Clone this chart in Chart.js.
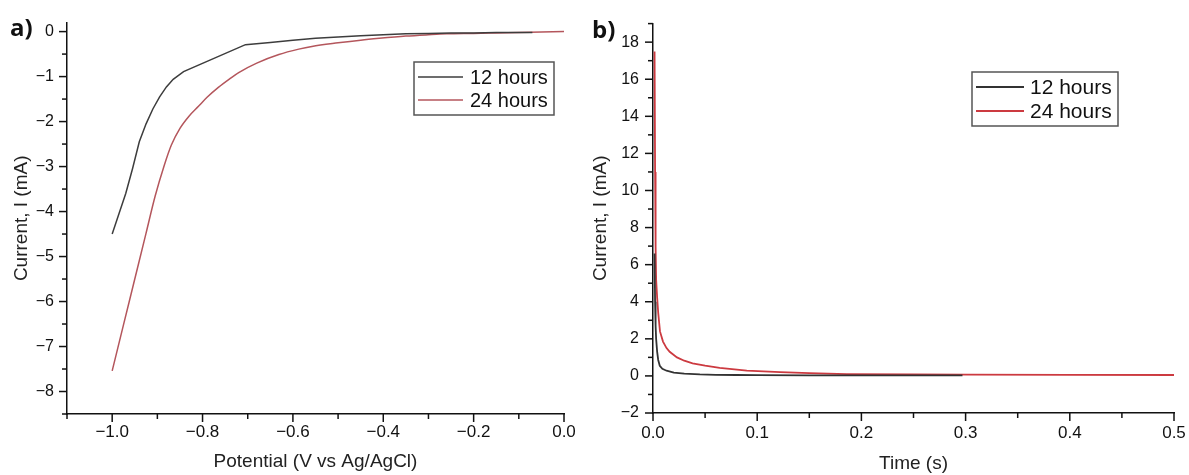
<!DOCTYPE html>
<html>
<head>
<meta charset="utf-8">
<script src="https://cdn.jsdelivr.net/npm/chart.js@4"></script>
<style>
  html, body { margin: 0; padding: 0; background: #fff; }
  #wrap { position: relative; width: 1189px; height: 475px; }
  .panel { position: absolute; top: 0; height: 475px; }
  #boxA { left: 0; width: 580px; }
  #boxB { left: 580px; width: 609px; }
</style>
</head>
<body>
<div id="wrap">
  <div class="panel" id="boxA"><canvas id="chartA"></canvas></div>
  <div class="panel" id="boxB"><canvas id="chartB"></canvas></div>
</div>
<script>
// panel a: linear sweep, current vs potential
const potential12 = [-1.0, -0.985, -0.97, -0.955, -0.94, -0.925, -0.91, -0.895, -0.88, -0.865, -0.842, -0.705, -0.65, -0.60, -0.55, -0.50, -0.45, -0.40, -0.35, -0.30, -0.25, -0.20, -0.15, -0.10, -0.07];
const current12  = [-4.50, -4.05, -3.60, -3.05, -2.45, -2.05, -1.72, -1.45, -1.23, -1.06, -0.89, -0.29, -0.24, -0.19, -0.15, -0.12, -0.09, -0.07, -0.05, -0.04, -0.03, -0.03, -0.02, -0.02, -0.02];
const potential24 = [-1.0, -0.975, -0.95, -0.925, -0.905, -0.885, -0.869, -0.85, -0.83, -0.809, -0.79, -0.765, -0.74, -0.72, -0.68, -0.631, -0.587, -0.558, -0.50, -0.45, -0.409, -0.35, -0.30, -0.26, -0.20, -0.15, -0.10, -0.05, 0.0];
const current24  = [-7.54, -6.52, -5.50, -4.48, -3.66, -2.98, -2.52, -2.15, -1.88, -1.66, -1.46, -1.24, -1.05, -0.91, -0.70, -0.51, -0.39, -0.33, -0.25, -0.19, -0.15, -0.10, -0.07, -0.05, -0.04, -0.03, -0.02, -0.01, 0.0];

// panel b: current vs time
const time12 = [0.0015, 0.002, 0.0025, 0.003, 0.004, 0.005, 0.0065, 0.009, 0.013, 0.02, 0.03, 0.045, 0.06, 0.08, 0.1, 0.15, 0.2, 0.25, 0.297];
const decay12 = [6.6, 4.0, 2.7, 2.0, 1.3, 0.86, 0.55, 0.38, 0.28, 0.18, 0.12, 0.08, 0.06, 0.05, 0.04, 0.03, 0.03, 0.03, 0.03];
const time24 = [0.0015, 0.002, 0.0025, 0.003, 0.004, 0.005, 0.0067, 0.0096, 0.013, 0.016, 0.023, 0.03, 0.038, 0.05, 0.064, 0.09, 0.122, 0.15, 0.186, 0.25, 0.3, 0.4, 0.5];
const decay24 = [17.5, 11.0, 7.0, 5.2, 4.2, 3.4, 2.4, 1.85, 1.5, 1.3, 1.0, 0.82, 0.68, 0.55, 0.43, 0.28, 0.2, 0.15, 0.1, 0.08, 0.07, 0.06, 0.05];

const seriesLabels = ['12 hours', '24 hours'];

const pts = (xs, ys) => xs.map((x, i) => ({ x: x, y: ys[i] }));
const minus = s => s.replace('-', '\u2212');

// draws outward tick marks, long for labelled ticks, short otherwise
const tickMarks = {
  id: 'tickMarks',
  afterDraw(chart, args, opts) {
    const ctx = chart.ctx;
    ctx.save();
    ctx.strokeStyle = opts.color;
    ctx.lineWidth = opts.width;
    ['x', 'y'].forEach(id => {
      const s = chart.scales[id];
      s.ticks.forEach(t => {
        const len = t.label !== '' ? opts.major : opts.minor;
        const p = s.getPixelForValue(t.value);
        ctx.beginPath();
        if (id === 'x') { ctx.moveTo(p, s.top); ctx.lineTo(p, s.top + len); }
        else { ctx.moveTo(s.right, p); ctx.lineTo(s.right - len, p); }
        ctx.stroke();
      });
    });
    ctx.restore();
  }
};

// boxed legend inside the plot + panel letter
const boxLegend = {
  id: 'boxLegend',
  afterDraw(chart, args, o) {
    const ctx = chart.ctx;
    ctx.save();
    ctx.fillStyle = '#fff';
    ctx.fillRect(o.x, o.y, o.w, o.h);
    ctx.strokeStyle = '#555';
    ctx.lineWidth = 1.5;
    ctx.strokeRect(o.x, o.y, o.w, o.h);
    ctx.font = o.font;
    ctx.textBaseline = 'middle';
    chart.data.datasets.forEach((ds, i) => {
      const yy = o.rows[i];
      ctx.strokeStyle = ds.borderColor;
      ctx.lineWidth = ds.borderWidth;
      ctx.beginPath();
      ctx.moveTo(o.sample[0], yy);
      ctx.lineTo(o.sample[1], yy);
      ctx.stroke();
      ctx.fillStyle = '#111';
      ctx.fillText(ds.label, o.textX, yy + 1);
    });
    ctx.font = 'bold 24px "Open Sans", "Liberation Sans", sans-serif';
    ctx.textBaseline = 'alphabetic';
    ctx.fillStyle = '#111';
    ctx.fillText(o.letter, o.letterX, o.letterY);
    ctx.restore();
  }
};

const FONT = '"Liberation Sans", Arial, sans-serif';

function axes(cfg) {
  return {
    x: {
      type: 'linear', min: cfg.xMin, max: cfg.xMax,
      afterFit: s => { s.height = cfg.xH; s.paddingLeft = 0; s.paddingRight = 0; },
      grid: { display: false, drawTicks: false },
      border: { display: true, color: '#111', width: 1.5 },
      ticks: {
        stepSize: cfg.xStep, includeBounds: false, autoSkip: false, maxRotation: 0,
        padding: cfg.xPad, color: '#111', font: { family: FONT, size: 17 },
        callback: cfg.xLabel
      },
      title: { display: true, text: cfg.xTitle, color: '#222', padding: { top: 0, bottom: cfg.xTitlePad }, font: { family: FONT, size: 19 } }
    },
    y: {
      type: 'linear', min: cfg.yMin, max: cfg.yMax,
      afterFit: s => { s.width = cfg.yW; },
      grid: { display: false, drawTicks: false },
      border: { display: true, color: '#111', width: 1.5 },
      ticks: {
        stepSize: cfg.yStep, includeBounds: false, autoSkip: false,
        padding: cfg.yPad, color: '#111', font: { family: FONT, size: 16 },
        callback: cfg.yLabel
      },
      title: { display: true, text: 'Current, I (mA)', color: '#222', padding: { top: cfg.yTitlePad, bottom: 0 }, font: { family: FONT, size: 19 } }
    }
  };
}

new Chart(document.getElementById('chartA'), {
  type: 'line',
  data: {
    datasets: [
      { label: seriesLabels[0], data: pts(potential12, current12), borderColor: '#3d3d3d', borderWidth: 1.5, pointRadius: 0 },
      { label: seriesLabels[1], data: pts(potential24, current24), borderColor: '#b4565c', borderWidth: 1.5, pointRadius: 0, cubicInterpolationMode: 'monotone' }
    ]
  },
  options: {
    responsive: true, maintainAspectRatio: false, animation: false,
    layout: { padding: { top: 21, right: 16, left: 0, bottom: 0 } },
    plugins: {
      legend: { display: false }, tooltip: { enabled: false },
      tickMarks: { color: '#111', width: 1.5, major: 8, minor: 5 },
      boxLegend: { x: 414, y: 62, w: 140, h: 53, rows: [77, 100], sample: [418, 463], textX: 470,
        font: '20px ' + FONT, letter: 'a)', letterX: 10, letterY: 36 }
    },
    scales: axes({
      xMin: -1.1, xMax: 0, xStep: 0.1, xH: 61, xPad: 8, xTitlePad: 2, xTitle: 'Potential (V vs Ag/AgCl)',
      xLabel: v => Math.abs(Math.round(v * 10)) % 2 === 0 ? minus(v.toFixed(1)) : '',
      yMin: -8.5, yMax: 0.2, yStep: 0.5, yW: 67, yPad: 13, yTitlePad: 10,
      yLabel: v => Math.abs(v - Math.round(v)) < 1e-6 ? minus(String(Math.round(v))) : ''
    })
  },
  plugins: [tickMarks, boxLegend]
});

new Chart(document.getElementById('chartB'), {
  type: 'line',
  data: {
    datasets: [
      { label: seriesLabels[0], data: pts(time12, decay12), borderColor: '#333333', borderWidth: 1.8, pointRadius: 0 },
      { label: seriesLabels[1], data: pts(time24, decay24), borderColor: '#cc3a40', borderWidth: 1.8, pointRadius: 0 }
    ]
  },
  options: {
    responsive: true, maintainAspectRatio: false, animation: false,
    layout: { padding: { top: 21, right: 15, left: 0, bottom: 0 } },
    plugins: {
      legend: { display: false }, tooltip: { enabled: false },
      tickMarks: { color: '#111', width: 1.5, major: 8, minor: 5 },
      boxLegend: { x: 392, y: 72, w: 146, h: 54, rows: [87, 111], sample: [396, 444], textX: 450,
        font: '21px ' + FONT, letter: 'b)', letterX: 12, letterY: 38 }
    },
    scales: axes({
      xMin: 0, xMax: 0.5, xStep: 0.05, xH: 62, xPad: 10, xTitlePad: 0, xTitle: 'Time (s)',
      xLabel: v => Math.round(v * 100) % 10 === 0 ? v.toFixed(1) : '',
      yMin: -2, yMax: 19, yStep: 1, yW: 73, yPad: 14, yTitlePad: 9,
      yLabel: v => Math.round(v) % 2 === 0 ? minus(String(Math.round(v))) : ''
    })
  },
  plugins: [tickMarks, boxLegend]
});
</script>
</body>
</html>
